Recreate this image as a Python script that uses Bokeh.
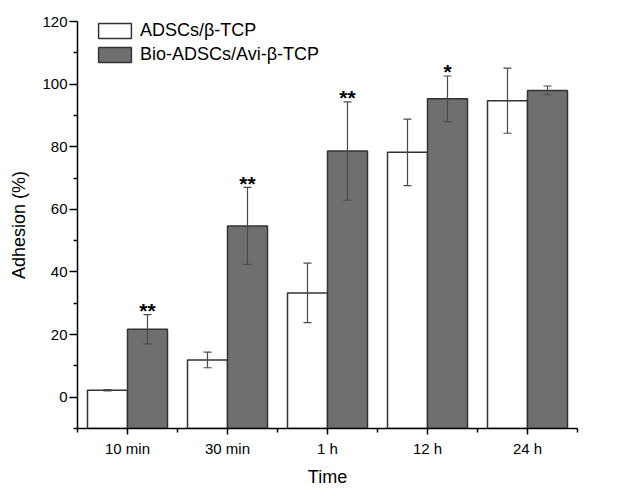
from bokeh.plotting import figure
from bokeh.models import (ColumnDataSource, Range1d, FixedTicker, Whisker, TeeHead,
                          Legend, LegendItem)
from bokeh.core.properties import value
from bokeh.embed import file_html
from bokeh.resources import INLINE

# ---- data ----
categories = ["10 min", "30 min", "1 h", "12 h", "24 h"]
adscs = [2.2, 11.9, 33.3, 78.2, 94.7]
adscs_err = [0.2, 2.5, 9.5, 10.6, 10.4]
bio = [21.7, 54.7, 78.6, 95.3, 98.0]
bio_err = [4.7, 12.3, 15.7, 7.3, 1.4]
significance = ["**", "**", "**", "*", ""]
y_ticks = [0, 20, 40, 60, 80, 100, 120]
y_minor = [-10, 10, 30, 50, 70, 90, 110]

FONT = "Liberation Sans"
idx = list(range(1, len(categories) + 1))
src = ColumnDataSource(dict(
    xa=[i - 0.2 for i in idx],
    xb=[i + 0.2 for i in idx],
    a=adscs,
    a_up=[v + e for v, e in zip(adscs, adscs_err)],
    a_lo=[v - e for v, e in zip(adscs, adscs_err)],
    b=bio,
    b_up=[v + e for v, e in zip(bio, bio_err)],
    b_lo=[v - e for v, e in zip(bio, bio_err)],
    sig=significance,
))

p = figure(width=615, height=495, x_range=Range1d(0.5, 5.5), y_range=Range1d(-10, 120),
           output_backend="svg", toolbar_location=None,
           min_border_left=77, min_border_right=38, min_border_top=21, min_border_bottom=67)
p.outline_line_color = None
p.grid.visible = False
p.background_fill_color = "white"

ra = p.vbar(x="xa", top="a", bottom=-10, width=0.4, source=src,
            fill_color="white", line_color="#333333", line_width=1.5)
rb = p.vbar(x="xb", top="b", bottom=-10, width=0.4, source=src,
            fill_color="#6f6f6f", line_color="#333333", line_width=1.5)

for base, up, lo in (("xa", "a_up", "a_lo"), ("xb", "b_up", "b_lo")):
    w = Whisker(base=base, upper=up, lower=lo, source=src, dimension="height",
                level="overlay", line_color="#4a4a4a", line_width=1.2,
                upper_head=TeeHead(size=8, line_color="#4a4a4a", line_width=1.2),
                lower_head=TeeHead(size=8, line_color="#4a4a4a", line_width=1.2))
    p.add_layout(w)

p.text(x="xb", y="b_up", text="sig", source=src, text_align="center",
       text_baseline="alphabetic", y_offset=-4, text_font=value(FONT),
       text_font_size="21px", text_font_style="bold", text_color="black")

# axes
p.xaxis.ticker = FixedTicker(ticks=idx, minor_ticks=[i - 0.5 for i in idx] + [5.5])
p.xaxis.major_label_overrides = {i: c for i, c in zip(idx, categories)}
p.yaxis.ticker = FixedTicker(ticks=y_ticks, minor_ticks=y_minor)
p.xaxis.axis_label = "Time"
p.yaxis.axis_label = "Adhesion (%)"
for ax in (p.xaxis, p.yaxis):
    ax.axis_line_color = "black"
    ax.axis_line_width = 1.5
    ax.major_tick_line_color = "black"
    ax.minor_tick_line_color = "black"
    ax.major_tick_line_width = 1.5
    ax.minor_tick_line_width = 1.5
    ax.major_tick_in = 0
    ax.minor_tick_in = 0
    ax.major_label_text_font = FONT
    ax.major_label_text_font_size = "15px"
    ax.major_label_text_color = "black"
    ax.axis_label_text_font = FONT
    ax.axis_label_text_font_size = "18px"
    ax.axis_label_text_font_style = "normal"
    ax.axis_label_text_color = "black"
p.xaxis.major_tick_out = 6
p.xaxis.minor_tick_out = 4
p.yaxis.major_tick_out = 8
p.yaxis.minor_tick_out = 4
p.xaxis.major_label_standoff = 5
p.yaxis.major_label_standoff = 2
p.xaxis.axis_label_standoff = 7
p.yaxis.axis_label_standoff = 10

legend = Legend(items=[LegendItem(label="ADSCs/β-TCP", renderers=[ra]),
                       LegendItem(label="Bio-ADSCs/Avi-β-TCP", renderers=[rb])],
                location=(17, 363), glyph_width=41, glyph_height=19, label_height=19,
                spacing=3, padding=0, margin=0, label_standoff=5,
                border_line_color=None, background_fill_alpha=0,
                label_text_font=FONT, label_text_font_size="18px", label_text_color="black")
p.add_layout(legend)

open("out.html", "w").write(file_html(p, INLINE))
